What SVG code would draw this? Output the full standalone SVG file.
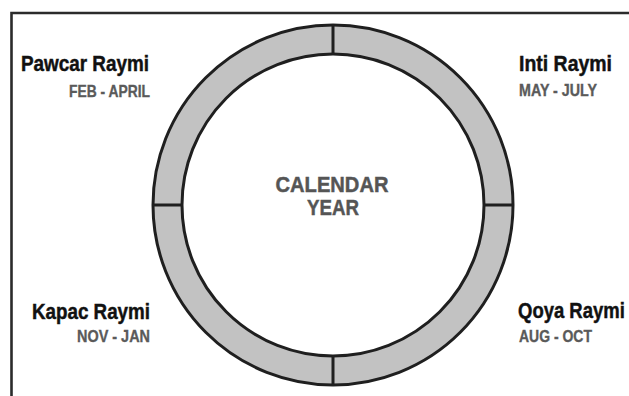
<svg xmlns="http://www.w3.org/2000/svg" width="629" height="396" viewBox="0 0 629 396">
<style>
.frame{fill:none;stroke:#2b2b2b;stroke-width:2.6}
.ring{fill:#c2c2c2;stroke:#1f1f1f;stroke-width:3}
.div{stroke:#1f1f1f;stroke-width:3}
.name{font-family:"Liberation Sans",Arial,sans-serif;font-weight:bold;font-size:21.5px;fill:#111;stroke:#111;stroke-width:0.45}
.months{font-family:"Liberation Sans",Arial,sans-serif;font-weight:bold;font-size:16.5px;fill:#5a5a5a;stroke:#5a5a5a;stroke-width:0.35}
.center{font-family:"Liberation Sans",Arial,sans-serif;font-weight:bold;font-size:21.5px;fill:#555;stroke:#555;stroke-width:0.45;text-anchor:middle}
</style>
<path class="frame" d="M11.5 396 V13 H629"/>
<g id="ring">
<path class="ring" fill-rule="evenodd" d="M153 205 A180 180 0 1 0 513 205 A180 180 0 1 0 153 205 Z M182 205 A151 151 0 1 1 484 205 A151 151 0 1 1 182 205 Z"/>
</g>
<g id="connectors">
<line class="div" x1="333" y1="25" x2="333" y2="54"/>
<line class="div" x1="333" y1="356" x2="333" y2="385"/>
<line class="div" x1="153" y1="205" x2="182" y2="205"/>
<line class="div" x1="484" y1="205" x2="513" y2="205"/>
</g>
<g id="center">
<text class="center" x="332" y="192" textLength="113" lengthAdjust="spacingAndGlyphs">CALENDAR</text>
<text class="center" x="333" y="215" textLength="52" lengthAdjust="spacingAndGlyphs">YEAR</text>
</g>
<g id="pawcar">
<text class="name" x="21" y="71" textLength="128" lengthAdjust="spacingAndGlyphs">Pawcar Raymi</text>
<text class="months" x="69" y="97" textLength="81" lengthAdjust="spacingAndGlyphs">FEB - APRIL</text>
</g>
<g id="inti">
<text class="name" x="519" y="71" textLength="93" lengthAdjust="spacingAndGlyphs">Inti Raymi</text>
<text class="months" x="519" y="96" textLength="78" lengthAdjust="spacingAndGlyphs">MAY - JULY</text>
</g>
<g id="kapac">
<text class="name" x="32" y="319" textLength="118" lengthAdjust="spacingAndGlyphs">Kapac Raymi</text>
<text class="months" x="77" y="342" textLength="73" lengthAdjust="spacingAndGlyphs">NOV - JAN</text>
</g>
<g id="qoya">
<text class="name" transform="translate(518 318) scale(0.86 1)" x="0" y="0">Qoya Raymi</text>
<text class="months" x="519" y="342" textLength="73" lengthAdjust="spacingAndGlyphs">AUG - OCT</text>
</g>
</svg>
